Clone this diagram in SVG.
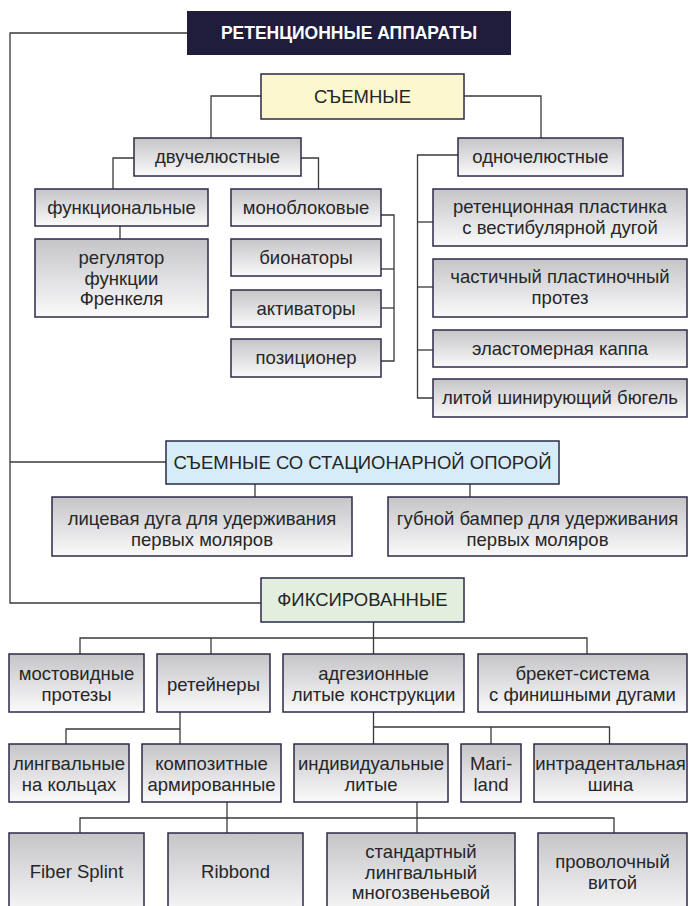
<svg xmlns="http://www.w3.org/2000/svg" width="689" height="906" viewBox="0 0 689 906">
  <defs>
    <linearGradient id="gray" x1="0" y1="0" x2="0" y2="1">
      <stop offset="0" stop-color="#c5c5c8"/>
      <stop offset="1" stop-color="#fafafb"/>
    </linearGradient>
    <style>
      .box { fill: url(#gray); stroke: #2b2a48; stroke-width: 1.5; }
      .yellow { fill: #fcf7cf; stroke: #2b2a48; stroke-width: 1.5; }
      .blue { fill: #d6ecf8; stroke: #2b2a48; stroke-width: 1.5; }
      .green { fill: #e2efdf; stroke: #2b2a48; stroke-width: 1.5; }
      .dark { fill: #1f1d3b; }
      text { font-family: "Liberation Sans", Arial, sans-serif; font-size: 18.5px; fill: #262626; text-anchor: middle; }
      .title { font-weight: bold; font-size: 17.5px; fill: #ffffff; }
      #connectors path { fill: none; stroke: #3a3a3a; stroke-width: 1.3; }
    </style>
  </defs>
  <rect width="689" height="906" fill="#ffffff"/>

  <g id="connectors">
    <path d="M187,33 H10 V603 H261"/>
    <path d="M10,462 H166"/>
    <path d="M261,96 H211 V138"/>
    <path d="M464,96 H541 V138"/>
    <path d="M134,158 H113 V189"/>
    <path d="M301,158 H318.5 V189"/>
    <path d="M120,226 V239"/>
    <path d="M381,215 H394 V361 H381"/>
    <path d="M381,269 H394"/>
    <path d="M381,308 H394"/>
    <path d="M458,155 H417.5 V398 H433"/>
    <path d="M417.5,222 H433"/>
    <path d="M417.5,287 H433"/>
    <path d="M417.5,350 H433"/>
    <path d="M255,484 V497"/>
    <path d="M470,484 V497"/>
    <path d="M373.5,622 V654"/>
    <path d="M80,654 V638 H587 V654"/>
    <path d="M211,638 V654"/>
    <path d="M180,712 V744"/>
    <path d="M66,744 V729 H180"/>
    <path d="M373.5,712 V744"/>
    <path d="M373.5,727 H609.5 V744"/>
    <path d="M491,727 V744"/>
    <path d="M227,802 V833"/>
    <path d="M417,802 V833"/>
    <path d="M80,833 V818 H614 V833"/>
  </g>

  <g id="root">
    <rect class="dark" x="187" y="11" width="324" height="44"/>
    <text class="title" x="349" y="39">РЕТЕНЦИОННЫЕ АППАРАТЫ</text>
  </g>

  <g id="removable">
    <rect class="yellow" x="261" y="74" width="203" height="45"/>
    <text x="362.5" y="103">СЪЕМНЫЕ</text>
  </g>
  <g id="bimaxillary">
    <rect class="box" x="134" y="138" width="167" height="38"/>
    <text x="217.5" y="163">двучелюстные</text>
  </g>
  <g id="monomaxillary">
    <rect class="box" x="458" y="138" width="165" height="38"/>
    <text x="540.5" y="163">одночелюстные</text>
  </g>
  <g id="functional">
    <rect class="box" x="35" y="189" width="173" height="37"/>
    <text x="121.5" y="214">функциональные</text>
  </g>
  <g id="frankel">
    <rect class="box" x="35" y="239" width="173" height="78"/>
    <text x="121.5" y="264">регулятор</text>
    <text x="121.5" y="285">функции</text>
    <text x="121.5" y="305">Френкеля</text>
  </g>
  <g id="monoblock">
    <rect class="box" x="231" y="189" width="150" height="37"/>
    <text x="306" y="214">моноблоковые</text>
  </g>
  <g id="bionator">
    <rect class="box" x="231" y="239" width="150" height="37"/>
    <text x="306" y="264">бионаторы</text>
  </g>
  <g id="activator">
    <rect class="box" x="231" y="290" width="150" height="37"/>
    <text x="306" y="315">активаторы</text>
  </g>
  <g id="positioner">
    <rect class="box" x="231" y="339" width="150" height="38"/>
    <text x="306" y="364">позиционер</text>
  </g>
  <g id="retention-plate">
    <rect class="box" x="433" y="189" width="254" height="57"/>
    <text x="560" y="213">ретенционная пластинка</text>
    <text x="560" y="234">с вестибулярной дугой</text>
  </g>
  <g id="partial-denture">
    <rect class="box" x="433" y="259" width="254" height="58"/>
    <text x="560" y="283">частичный пластиночный</text>
    <text x="560" y="304">протез</text>
  </g>
  <g id="elastomer">
    <rect class="box" x="433" y="330" width="254" height="37"/>
    <text x="560" y="355">эластомерная каппа</text>
  </g>
  <g id="cast-bugel">
    <rect class="box" x="433" y="379" width="254" height="38"/>
    <text x="560" y="404">литой шинирующий бюгель</text>
  </g>

  <g id="removable-fixed-support">
    <rect class="blue" x="166" y="441" width="393" height="43"/>
    <text x="362.5" y="469">СЪЕМНЫЕ СО СТАЦИОНАРНОЙ ОПОРОЙ</text>
  </g>
  <g id="facebow">
    <rect class="box" x="52" y="497" width="300" height="59"/>
    <text x="202" y="525">лицевая дуга для удерживания</text>
    <text x="202" y="546">первых моляров</text>
  </g>
  <g id="lip-bumper">
    <rect class="box" x="388" y="497" width="299" height="59"/>
    <text x="537.5" y="525">губной бампер для удерживания</text>
    <text x="537.5" y="546">первых моляров</text>
  </g>

  <g id="fixed">
    <rect class="green" x="261" y="578" width="203" height="44"/>
    <text x="362.5" y="606">ФИКСИРОВАННЫЕ</text>
  </g>
  <g id="bridges">
    <rect class="box" x="9" y="654" width="135" height="58"/>
    <text x="76.5" y="680">мостовидные</text>
    <text x="76.5" y="701">протезы</text>
  </g>
  <g id="retainers">
    <rect class="box" x="157" y="654" width="113" height="58"/>
    <text x="213.5" y="691">ретейнеры</text>
  </g>
  <g id="adhesive">
    <rect class="box" x="283" y="654" width="181" height="58"/>
    <text x="373.5" y="680">адгезионные</text>
    <text x="373.5" y="701">литые конструкции</text>
  </g>
  <g id="braces">
    <rect class="box" x="478" y="654" width="209" height="58"/>
    <text x="582.5" y="680">брекет-система</text>
    <text x="582.5" y="701">с финишными дугами</text>
  </g>
  <g id="lingual-rings">
    <rect class="box" x="9" y="744" width="120" height="58"/>
    <text x="69" y="770">лингвальные</text>
    <text x="69" y="791">на кольцах</text>
  </g>
  <g id="composite">
    <rect class="box" x="142" y="744" width="139" height="58"/>
    <text x="211.5" y="770">композитные</text>
    <text x="211.5" y="791">армированные</text>
  </g>
  <g id="individual">
    <rect class="box" x="294" y="744" width="154" height="58"/>
    <text x="371" y="770">индивидуальные</text>
    <text x="371" y="791">литые</text>
  </g>
  <g id="mariland">
    <rect class="box" x="461" y="744" width="60" height="58"/>
    <text x="491" y="770">Mari-</text>
    <text x="491" y="791">land</text>
  </g>
  <g id="intradental">
    <rect class="box" x="534" y="744" width="153" height="58"/>
    <text x="610.5" y="770">интрадентальная</text>
    <text x="610.5" y="791">шина</text>
  </g>
  <g id="fiber-splint">
    <rect class="box" x="9" y="833" width="135" height="85"/>
    <text x="76.5" y="878">Fiber Splint</text>
  </g>
  <g id="ribbond">
    <rect class="box" x="168" y="833" width="135" height="85"/>
    <text x="235.5" y="878">Ribbond</text>
  </g>
  <g id="standard-lingual">
    <rect class="box" x="327" y="833" width="188" height="85"/>
    <text x="421" y="858">стандартный</text>
    <text x="421" y="879">лингвальный</text>
    <text x="421" y="899">многозвеньевой</text>
  </g>
  <g id="twisted-wire">
    <rect class="box" x="538" y="833" width="149" height="85"/>
    <text x="612.5" y="868">проволочный</text>
    <text x="612.5" y="889">витой</text>
  </g>
</svg>
